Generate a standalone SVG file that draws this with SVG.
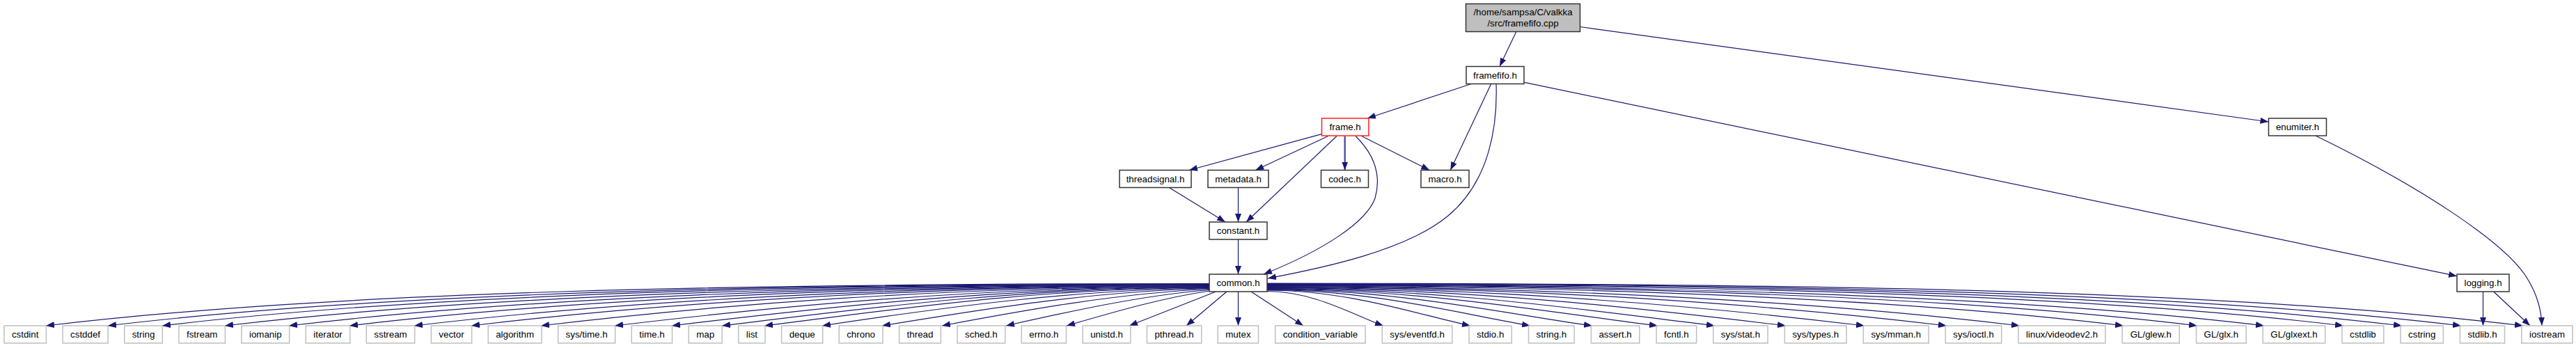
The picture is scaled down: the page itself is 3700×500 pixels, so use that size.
<svg xmlns="http://www.w3.org/2000/svg" width="3700" height="500" viewBox="0 0 3700 500">
<defs>
<marker id="ah" markerUnits="userSpaceOnUse" markerWidth="12" markerHeight="9" refX="12" refY="4.5" orient="auto">
<path d="M0,0 L12,4.5 L0,9 z" fill="#191970"/>
</marker>
</defs>
<style>
text{font-family:"Liberation Sans",Arial,sans-serif;font-size:13.33px;fill:#000;text-anchor:middle}
.nd rect{fill:#fff;stroke:#333;stroke-width:1.5}
.lf rect{fill:#fff;stroke:#bfbfbf;stroke-width:1.5}
.rt rect{fill:#bfbfbf;stroke:#333;stroke-width:1.5}
.rd rect{fill:#fff;stroke:#ff2020;stroke-width:1.5}
#edges path{fill:none;stroke:#191970;stroke-width:1.2;marker-end:url(#ah)}
#edges path.thick{stroke:#5050a0;stroke-width:2.4}
</style>
<rect width="3700" height="500" fill="#fff"/>
<g id="edges">
<path d="M2177.7,45.7 L2154,95.5"/>
<path d="M2269.5,38.5 L3258.5,175"/>
<path d="M2113.3,120.5 L1964,170"/>
<path d="M2141.7,120.5 L2083.3,244.5"/>
<path d="M2149,120.5 C2151,180 2140,260 2080,310 C2020,360 1900,385 1821,400"/>
<path d="M2189.5,118.3 L3529,396.7"/>
<path d="M1898.3,192.7 L1708,244.5"/>
<path d="M1907.7,195.5 L1803.3,244.5"/>
<path d="M1920,195.5 L1790,319"/>
<path class="thick" d="M1931.7,195.5 L1931.7,244.5"/>
<path d="M1947,195.5 C1972,220 1985,250 1975,285 C1962,320 1900,360 1815,394"/>
<path d="M1955.7,195.5 L2053.3,244.5"/>
<path d="M1679.3,269.5 L1760,319"/>
<path d="M1778.5,269.5 L1778.5,319"/>
<path d="M1778.5,344 L1778.5,394"/>
<path d="M3566.5,419 L3566.5,468"/>
<path d="M3581.7,419 L3634,468"/>
<path d="M3326,195 C3480,270 3600,350 3630,400 C3645,425 3650,445 3651,468"/>
<path d="M1737,407.5 C1069,407.5 484,418 66,468"/>
<path d="M1737,408 C1104,408 551,420.5 155,468"/>
<path d="M1737,408.5 C1135,408.5 609,423 233,468"/>
<path d="M1737,409 C1171,409 677,425.6 323,468"/>
<path d="M1737,409.5 C1208,409.5 746,428.3 415,468"/>
<path d="M1737,410 C1243,410 811,431 502,468"/>
<path d="M1737,410.5 C1280,410.5 881,433.7 595,468"/>
<path d="M1737,411 C1313,411 942,436.2 677,468"/>
<path d="M1737,411.5 C1353,411.5 1017,439.2 777,468"/>
<path d="M1737,412 C1395,412 1097,442.4 883,468"/>
<path d="M1737,412.5 C1428,412.5 1158,444.8 965,468"/>
<path d="M1737,413 C1457,413 1212,447 1037,468"/>
<path d="M1737,413.5 C1481,413.5 1258,448.8 1098,468"/>
<path d="M1737,414 C1547,416 1366,440 1181,468"/>
<path d="M1737,414.5 C1577,418 1424,442 1267,468"/>
<path d="M1737,415.5 C1609,421 1481,444 1353,468"/>
<path d="M1737,416.5 C1640,424.5 1543,446 1445,468"/>
<path d="M1737,418 C1669,428 1601,448 1532,468"/>
<path d="M1746.5,419 L1622,468"/>
<path d="M1762,419 L1704,468"/>
<path d="M1778.5,419 L1778.5,468"/>
<path d="M1797,419 L1872,468"/>
<path d="M1820,418.5 C1887,418.5 1945,453.1 1987,468"/>
<path d="M1820,417 C1937,417 2039,452.7 2112,468"/>
<path d="M1820,416.3 C1971,416.3 2104,452.5 2198,468"/>
<path d="M1820,415.7 C2007,415.7 2170,452.4 2287,468"/>
<path d="M1820,415 C2044,415 2241,451.2 2381,468"/>
<path d="M1820,414.3 C2077,414.3 2302,448.7 2463,468"/>
<path d="M1820,413.7 C2118,413.7 2379,445.7 2565,468"/>
<path d="M1820,413 C2163,413 2464,442.3 2678,468"/>
<path d="M1820,412.3 C2210,412.3 2552,438.7 2796,468"/>
<path d="M1820,411.7 C2252,411.7 2631,435.6 2901,468"/>
<path d="M1820,411 C2312,411 2743,431.1 3050,468"/>
<path d="M1820,410.3 C2354,410.3 2822,427.9 3156,468"/>
<path d="M1820,409.7 C2393,409.7 2894,425 3252,468"/>
<path d="M1820,409 C2438,409 2980,421.6 3366,468"/>
<path d="M1820,408.3 C2472,408.3 3043,419.1 3450,468"/>
<path d="M1820,407.7 C2506,407.7 3106,416.5 3535,468"/>
<path d="M1820,407 C2542,407 3173,413.9 3624,468"/>
</g>
<g id="n_root" class="rt"><rect x="2105.5" y="5.5" width="164" height="40"/><text x="2187.5" y="22">/home/sampsa/C/valkka</text><text x="2187.5" y="37.5">/src/framefifo.cpp</text></g>
<g id="n_framefifo_h" class="nd"><rect x="2106" y="95.5" width="83" height="25"/><text x="2147.5" y="112.5">framefifo.h</text></g>
<g id="n_frame_h" class="rd"><rect x="1898.5" y="170" width="67.5" height="25"/><text x="1932.2" y="187">frame.h</text></g>
<g id="n_enumiter_h" class="nd"><rect x="3258.5" y="170" width="83" height="25"/><text x="3300" y="187">enumiter.h</text></g>
<g id="n_threadsignal_h" class="nd"><rect x="1608" y="244.5" width="103" height="25"/><text x="1659.5" y="261.5">threadsignal.h</text></g>
<g id="n_metadata_h" class="nd"><rect x="1735" y="244.5" width="87" height="25"/><text x="1778.5" y="261.5">metadata.h</text></g>
<g id="n_codec_h" class="nd"><rect x="1897.5" y="244.5" width="68" height="25"/><text x="1931.5" y="261.5">codec.h</text></g>
<g id="n_macro_h" class="nd"><rect x="2041" y="244.5" width="69" height="25"/><text x="2075.5" y="261.5">macro.h</text></g>
<g id="n_constant_h" class="nd"><rect x="1737" y="319" width="83" height="25"/><text x="1778.5" y="336">constant.h</text></g>
<g id="n_common_h" class="nd"><rect x="1737" y="394" width="83" height="25"/><text x="1778.5" y="411">common.h</text></g>
<g id="n_logging_h" class="nd"><rect x="3529" y="394" width="75" height="25"/><text x="3566.5" y="411">logging.h</text></g>
<g id="n_cstdint" class="lf"><rect x="5.9" y="468" width="60.5" height="25"/><text x="36.2" y="485">cstdint</text></g>
<g id="n_cstddef" class="lf"><rect x="90.1" y="468" width="65" height="25"/><text x="122.6" y="485">cstddef</text></g>
<g id="n_string" class="lf"><rect x="178.7" y="468" width="54.6" height="25"/><text x="206" y="485">string</text></g>
<g id="n_fstream" class="lf"><rect x="256.9" y="468" width="66.5" height="25"/><text x="290.2" y="485">fstream</text></g>
<g id="n_iomanip" class="lf"><rect x="346.9" y="468" width="68.7" height="25"/><text x="381.3" y="485">iomanip</text></g>
<g id="n_iterator" class="lf"><rect x="439.2" y="468" width="63.5" height="25"/><text x="471" y="485">iterator</text></g>
<g id="n_sstream" class="lf"><rect x="526.3" y="468" width="69.4" height="25"/><text x="561" y="485">sstream</text></g>
<g id="n_vector" class="lf"><rect x="619.3" y="468" width="58.3" height="25"/><text x="648.5" y="485">vector</text></g>
<g id="n_algorithm" class="lf"><rect x="701.2" y="468" width="76.8" height="25"/><text x="739.6" y="485">algorithm</text></g>
<g id="n_sys_time_h" class="lf"><rect x="801.6" y="468" width="82" height="25"/><text x="842.6" y="485">sys/time.h</text></g>
<g id="n_time_h" class="lf"><rect x="907.2" y="468" width="58.3" height="25"/><text x="936.4" y="485">time.h</text></g>
<g id="n_map" class="lf"><rect x="989.2" y="468" width="47.9" height="25"/><text x="1013.2" y="485">map</text></g>
<g id="n_list" class="lf"><rect x="1060.7" y="468" width="38.3" height="25"/><text x="1079.9" y="485">list</text></g>
<g id="n_deque" class="lf"><rect x="1122.6" y="468" width="59.1" height="25"/><text x="1152.2" y="485">deque</text></g>
<g id="n_chrono" class="lf"><rect x="1205.2" y="468" width="62.8" height="25"/><text x="1236.6" y="485">chrono</text></g>
<g id="n_thread" class="lf"><rect x="1291.6" y="468" width="59.8" height="25"/><text x="1321.5" y="485">thread</text></g>
<g id="n_sched_h" class="lf"><rect x="1375" y="468" width="68.7" height="25"/><text x="1409.4" y="485">sched.h</text></g>
<g id="n_errno_h" class="lf"><rect x="1467.3" y="468" width="64.2" height="25"/><text x="1499.4" y="485">errno.h</text></g>
<g id="n_unistd_h" class="lf"><rect x="1555.1" y="468" width="68.7" height="25"/><text x="1589.5" y="485">unistd.h</text></g>
<g id="n_pthread_h" class="lf"><rect x="1647.4" y="468" width="78.3" height="25"/><text x="1686.6" y="485">pthread.h</text></g>
<g id="n_mutex" class="lf"><rect x="1749.2" y="468" width="58.3" height="25"/><text x="1778.4" y="485">mutex</text></g>
<g id="n_condition_variable" class="lf"><rect x="1831.7" y="468" width="129.4" height="25"/><text x="1896.4" y="485">condition_variable</text></g>
<g id="n_sys_eventfd_h" class="lf"><rect x="1985.3" y="468" width="100.6" height="25"/><text x="2035.6" y="485">sys/eventfd.h</text></g>
<g id="n_stdio_h" class="lf"><rect x="2110" y="468" width="61.3" height="25"/><text x="2140.7" y="485">stdio.h</text></g>
<g id="n_string_h" class="lf"><rect x="2195.5" y="468" width="65.7" height="25"/><text x="2228.4" y="485">string.h</text></g>
<g id="n_assert_h" class="lf"><rect x="2285.4" y="468" width="69.4" height="25"/><text x="2320.1" y="485">assert.h</text></g>
<g id="n_fcntl_h" class="lf"><rect x="2379.1" y="468" width="57.6" height="25"/><text x="2407.9" y="485">fcntl.h</text></g>
<g id="n_sys_stat_h" class="lf"><rect x="2460.8" y="468" width="78.3" height="25"/><text x="2500" y="485">sys/stat.h</text></g>
<g id="n_sys_types_h" class="lf"><rect x="2563.4" y="468" width="88.7" height="25"/><text x="2607.8" y="485">sys/types.h</text></g>
<g id="n_sys_mman_h" class="lf"><rect x="2676.3" y="468" width="93.9" height="25"/><text x="2723.3" y="485">sys/mman.h</text></g>
<g id="n_sys_ioctl_h" class="lf"><rect x="2794.3" y="468" width="80.5" height="25"/><text x="2834.6" y="485">sys/ioctl.h</text></g>
<g id="n_linux_videodev2_h" class="lf"><rect x="2899.1" y="468" width="125" height="25"/><text x="2961.6" y="485">linux/videodev2.h</text></g>
<g id="n_GL_glew_h" class="lf"><rect x="3048.3" y="468" width="82" height="25"/><text x="3089.3" y="485">GL/glew.h</text></g>
<g id="n_GL_glx_h" class="lf"><rect x="3154.5" y="468" width="71.7" height="25"/><text x="3190.4" y="485">GL/glx.h</text></g>
<g id="n_GL_glxext_h" class="lf"><rect x="3250.3" y="468" width="89.4" height="25"/><text x="3295" y="485">GL/glxext.h</text></g>
<g id="n_cstdlib" class="lf"><rect x="3364" y="468" width="59.8" height="25"/><text x="3393.9" y="485">cstdlib</text></g>
<g id="n_cstring" class="lf"><rect x="3448" y="468" width="61.3" height="25"/><text x="3478.7" y="485">cstring</text></g>
<g id="n_stdlib_h" class="lf"><rect x="3533.4" y="468" width="64.2" height="25"/><text x="3565.5" y="485">stdlib.h</text></g>
<g id="n_iostream" class="lf"><rect x="3621.9" y="468" width="73.1" height="25"/><text x="3658.5" y="485">iostream</text></g>
</svg>
